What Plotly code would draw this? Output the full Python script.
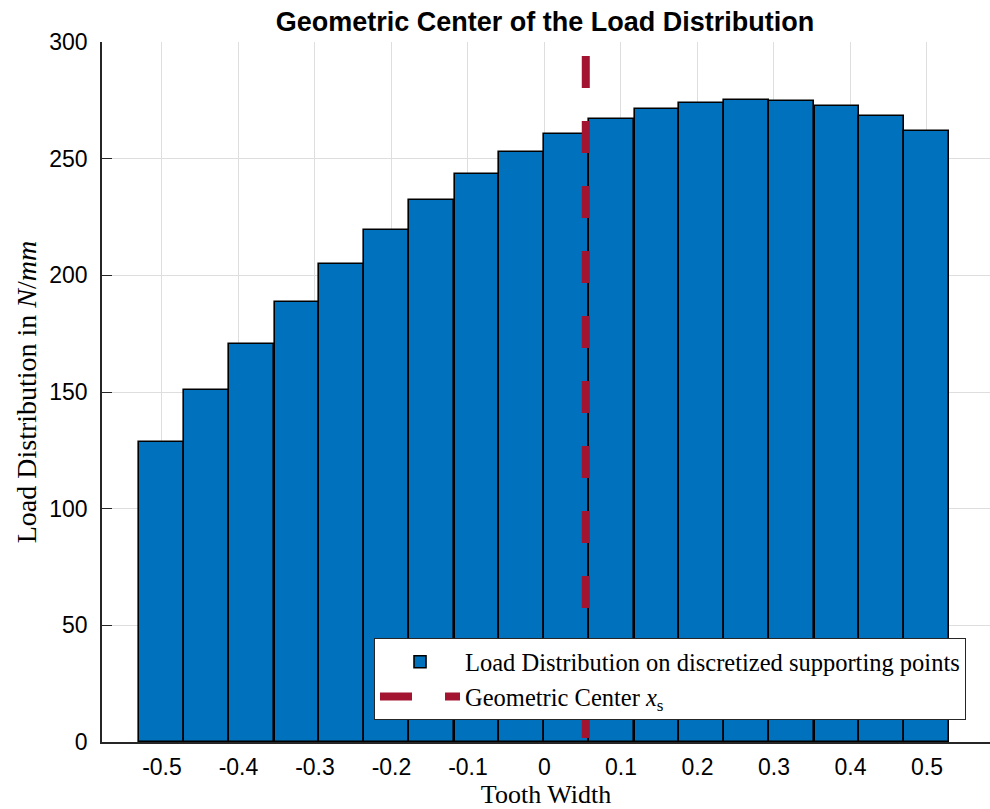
import plotly.graph_objects as go

# ---- data ----
tooth_width_pos = [-0.5, -0.4412, -0.3824, -0.3235, -0.2647, -0.2059, -0.1471, -0.0882, -0.0294,
                   0.0294, 0.0882, 0.1471, 0.2059, 0.2647, 0.3235, 0.3824, 0.4412, 0.5]
load_values = [128.7, 150.9, 170.6, 188.7, 204.9, 219.6, 232.3, 243.6, 253.0,
               260.7, 266.9, 271.3, 274.0, 275.3, 274.7, 272.6, 268.4, 261.9]
bar_width = 0.0588
center_x = [0.054, 0.054]
center_y = [294, 0]
x_tick_vals = [-0.5, -0.4, -0.3, -0.2, -0.1, 0, 0.1, 0.2, 0.3, 0.4, 0.5]
x_tick_text = ["-0.5", "-0.4", "-0.3", "-0.2", "-0.1", "0", "0.1", "0.2", "0.3", "0.4", "0.5"]
y_tick_vals = [0, 50, 100, 150, 200, 250, 300]

fig = go.Figure()
fig.add_trace(go.Bar(
    x=tooth_width_pos, y=load_values, width=bar_width,
    marker=dict(color="#0072BD", line=dict(color="#000000", width=1.6)),
    name="Load Distribution on discretized supporting points",
))
fig.add_trace(go.Scatter(
    x=center_x, y=center_y, mode="lines",
    line=dict(color="#A2142F", width=8, dash="32px,33px"),
    name="Geometric Center <i>x</i><sub>s</sub>",
))

fig.update_layout(
    width=990, height=809,
    margin=dict(l=102, r=0, t=42, b=67),
    paper_bgcolor="white", plot_bgcolor="white",
    title=dict(text="<b>Geometric Center of the Load Distribution</b>",
               x=0.4989, xanchor="center", xref="paper", yref="container", y=1 - 22 / 809, yanchor="middle",
               font=dict(family="Liberation Sans, Arial", size=27, color="black")),
    font=dict(family="Liberation Sans, Arial", color="black"),
    showlegend=True,
    legend=dict(x=0.973, y=0.031, xanchor="right", yanchor="bottom",
                bgcolor="white", bordercolor="#262626", borderwidth=1,
                font=dict(family="Liberation Serif, Times New Roman, serif", size=24.5, color="black"),
                itemwidth=80, tracegroupgap=0),
    bargap=0,
)
fig.update_xaxes(
    range=[-0.5784, 0.5824], tickmode="array", tickvals=x_tick_vals, ticktext=x_tick_text,
    showgrid=True, gridcolor="#dedede", gridwidth=1, zeroline=False,
    showline=True, linecolor="#262626", linewidth=1.5,
    ticks="inside", ticklen=10, tickcolor="#262626", layer="below traces",
    tickfont=dict(size=23, color="black"), ticklabelstandoff=4,
    title=dict(text="Tooth Width", standoff=5,
               font=dict(family="Liberation Serif, Times New Roman, serif", size=26, color="black")),
)
fig.update_yaxes(
    range=[0, 300], tickmode="array", tickvals=y_tick_vals,
    showgrid=True, gridcolor="#dedede", gridwidth=1, zeroline=False,
    showline=True, linecolor="#262626", linewidth=1.5,
    ticks="inside", ticklen=10, tickcolor="#262626", layer="below traces",
    tickfont=dict(size=23, color="black"), ticklabelstandoff=8,
    title=dict(text="Load Distribution in <i>N</i>/<i>mm</i>", standoff=4,
               font=dict(family="Liberation Serif, Times New Roman, serif", size=28, color="black")),
)

fig.write_html("out.html")
